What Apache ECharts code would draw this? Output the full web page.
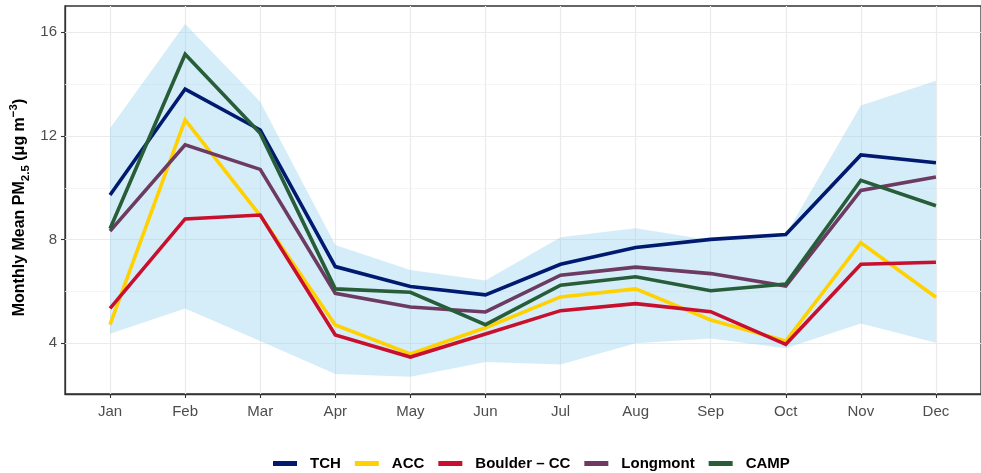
<!DOCTYPE html>
<html>
<head>
<meta charset="utf-8">
<script src="https://cdn.jsdelivr.net/npm/echarts@6/dist/echarts.min.js"></script>
<style>
  html, body { margin: 0; padding: 0; background: #ffffff; }
  #chart { width: 981px; height: 473px; }
</style>
</head>
<body>
<div id="chart"></div>
<script>
// Monthly mean PM2.5 at five Colorado sites, with the min–max envelope across sites
const months = ['Jan', 'Feb', 'Mar', 'Apr', 'May', 'Jun', 'Jul', 'Aug', 'Sep', 'Oct', 'Nov', 'Dec'];

const tch      = [9.72, 13.81, 12.23, 6.96, 6.19, 5.87, 7.05, 7.70, 8.01, 8.20, 11.27, 10.97];
const acc      = [4.72, 12.62, 8.93, 4.71, 3.59, 4.60, 5.79, 6.10, 4.90, 4.09, 7.88, 5.78];
const boulder  = [5.35, 8.80, 8.95, 4.32, 3.47, 4.36, 5.26, 5.53, 5.22, 3.96, 7.05, 7.13];
const longmont = [8.33, 11.66, 10.71, 5.93, 5.40, 5.21, 6.63, 6.94, 6.69, 6.21, 9.90, 10.42];
const camp     = [8.42, 15.15, 12.10, 6.10, 5.97, 4.72, 6.24, 6.57, 6.03, 6.29, 10.29, 9.31];

// shaded envelope
const bandUpper = [12.30, 16.32, 13.32, 7.79, 6.83, 6.42, 8.09, 8.44, 7.98, 8.20, 13.18, 14.13];
const bandLower = [4.37, 5.34, 4.09, 2.82, 2.71, 3.28, 3.18, 4.00, 4.19, 3.81, 4.76, 4.02];

const yTicks = [4, 8, 12, 16];
const yMinor = [6, 10, 14];

const siteNames  = ['TCH', 'ACC', 'Boulder \u2013 CC', 'Longmont', 'CAMP'];
const siteValues = [tch, acc, boulder, longmont, camp];
const siteColors = ['#001a70', '#ffd100', '#c8102e', '#6d3a62', '#275d38'];

const monthIdx = months.map((_, i) => i);
const toPairs = arr => arr.map((v, i) => [i, v]);

const gridMajor = { color: '#ebebeb', width: 1.2, type: 'solid' };
const gridMinor = { color: '#f2f2f2', width: 0.8, type: 'solid' };

const gridMarks = []
  .concat(yTicks.map(v => ({ yAxis: v, lineStyle: gridMajor })))
  .concat(yMinor.map(v => ({ yAxis: v, lineStyle: gridMinor })))
  .concat(monthIdx.map(i => ({ xAxis: i, lineStyle: gridMajor })));

const FONT = 'Liberation Sans, Arial, sans-serif';

const series = [
  {
    // envelope polygon: upper edge left→right, lower edge right→left;
    // this series also carries the panel grid lines
    name: 'band',
    type: 'custom',
    data: [0],
    silent: true,
    z: 2,
    renderItem: function (params, api) {
      const pts = [];
      for (let i = 0; i < bandUpper.length; i++) pts.push(api.coord([i, bandUpper[i]]));
      for (let i = bandLower.length - 1; i >= 0; i--) pts.push(api.coord([i, bandLower[i]]));
      return {
        type: 'polygon',
        shape: { points: pts },
        style: { fill: 'rgba(135,206,235,0.36)', stroke: 'none' }
      };
    },
    markLine: {
      silent: true,
      symbol: 'none',
      z: 1,
      label: { show: false },
      animation: false,
      data: gridMarks
    }
  }
].concat(siteNames.map((name, k) => ({
  name: name,
  type: 'line',
  data: toPairs(siteValues[k]),
  symbol: 'none',
  lineStyle: { color: siteColors[k], width: 3.6, cap: 'butt', join: 'miter' },
  itemStyle: { color: siteColors[k] },
  z: 10 + k
})));

const chart = echarts.init(document.getElementById('chart'), null, { renderer: 'canvas' });

chart.setOption({
  animation: false,
  backgroundColor: '#ffffff',
  textStyle: { fontFamily: FONT },
  grid: {
    left: 65, right: -7, top: 6, bottom: 79,
    show: true, borderColor: '#333333', borderWidth: 1.3,
    backgroundColor: 'transparent'
  },
  xAxis: {
    type: 'value',
    min: -0.6,
    max: 11.6,
    axisLine: { show: true, onZero: false, lineStyle: { color: '#333333', width: 1.3 } },
    axisTick: { show: true, length: 4, customValues: monthIdx, lineStyle: { color: '#333333', width: 1.1 } },
    axisLabel: {
      customValues: monthIdx,
      formatter: v => months[Math.round(v)],
      color: '#4d4d4d', fontSize: 15, margin: 10,
      fontFamily: FONT
    },
    splitLine: { show: false }
  },
  yAxis: {
    type: 'value',
    min: 2.044,
    max: 17.015,
    axisLine: { show: true, onZero: false, lineStyle: { color: '#333333', width: 1.3 } },
    axisTick: { show: true, length: 4, customValues: yTicks, lineStyle: { color: '#333333', width: 1.1 } },
    axisLabel: {
      customValues: yTicks,
      color: '#4d4d4d', fontSize: 15, margin: 8,
      fontFamily: FONT
    },
    splitLine: { show: false }
  },
  legend: {
    data: siteNames,
    left: 268,
    top: 451,
    icon: 'rect',
    itemWidth: 24,
    itemHeight: 5,
    itemGap: 14,
    textStyle: {
      color: '#000000', fontSize: 15, fontWeight: 'bold',
      fontFamily: FONT,
      padding: [0, 0, 0, 8]
    },
    selectedMode: false
  },
  graphic: [
    {
      type: 'text',
      x: 20,
      y: 207.5,
      rotation: Math.PI / 2,
      silent: true,
      style: {
        text: '{m|Monthly Mean PM}{s|2.5}{m| (\u03bcg m}{p|\u22123}{m|)}',
        align: 'center',
        verticalAlign: 'middle',
        rich: {
          m: { fontSize: 16, fontWeight: 'bold', fill: '#000000', lineHeight: 24, verticalAlign: 'middle', fontFamily: FONT },
          s: { fontSize: 11.5, fontWeight: 'bold', fill: '#000000', lineHeight: 24, verticalAlign: 'bottom', fontFamily: FONT },
          p: { fontSize: 11.5, fontWeight: 'bold', fill: '#000000', lineHeight: 24, verticalAlign: 'top', fontFamily: FONT }
        }
      }
    }
  ],
  series: series
});
</script>
</body>
</html>
